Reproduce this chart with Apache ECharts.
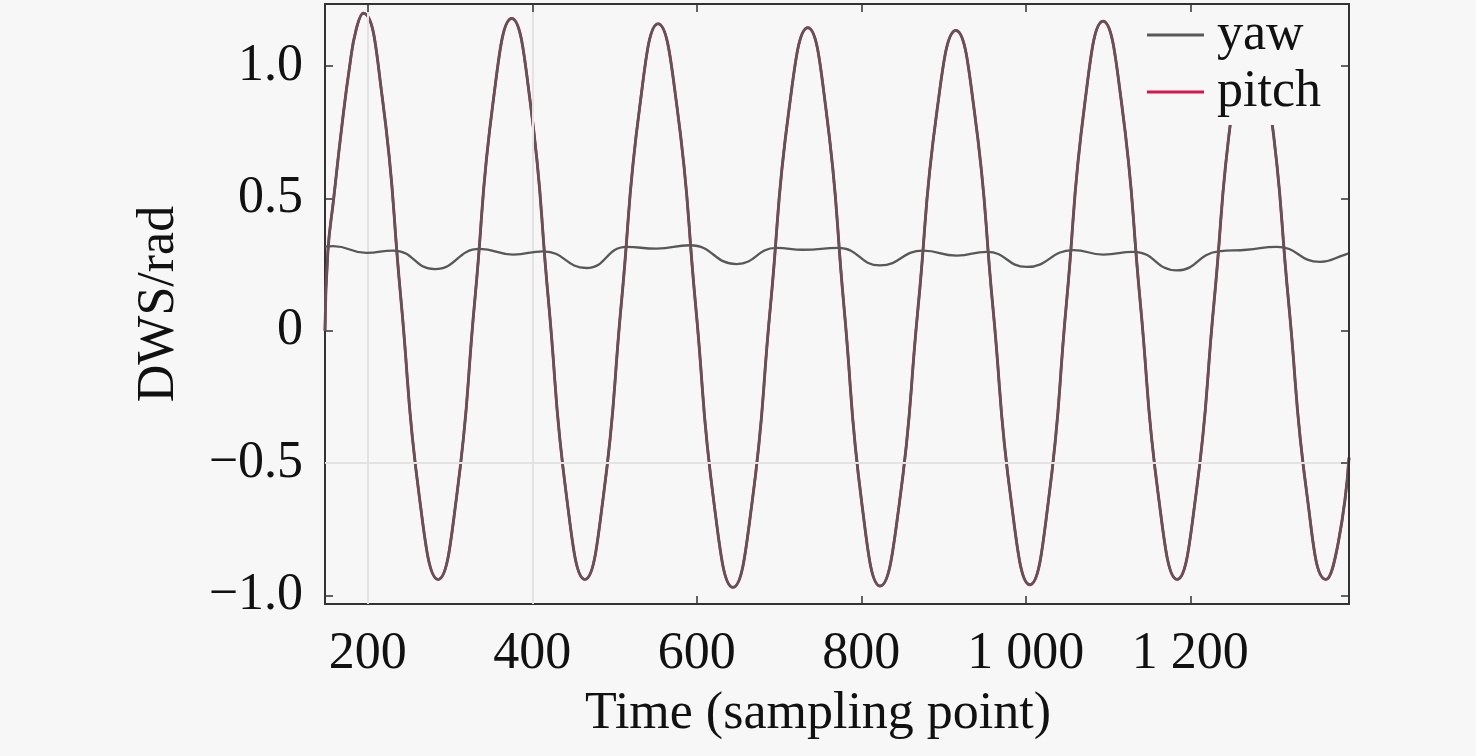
<!DOCTYPE html>
<html>
<head>
<meta charset="utf-8">
<script src="https://cdn.jsdelivr.net/npm/echarts@6/dist/echarts.min.js"></script>
<style>
html,body{margin:0;padding:0;background:#f7f7f7;}
#chart{width:1476px;height:756px;}
</style>
</head>
<body>
<div id="chart"></div>
<script>
// ---- data ----
const xTicks = [200, 400, 600, 800, 1000, 1200];
const yTicks = [-1.0, -0.5, 0, 0.5, 1.0];
const gridX = [200, 400];
const gridY = [-0.5];

const pitchT = [148, 151.5, 158.6, 168, 178, 186, 194.5,
  217.3, 240, 262.8, 285.5,
  307.9, 330.3, 352.6, 375,
  397.3, 419.5, 441.8, 464,
  486.3, 508.5, 530.8, 553,
  575.8, 598.5, 621.3, 644,
  666.8, 689.5, 712.3, 735,
  757, 779, 801, 823,
  846, 869, 892, 915,
  937.5, 960, 982.5, 1005,
  1027.3, 1049.5, 1071.8, 1094,
  1116.5, 1139, 1161.5, 1184,
  1206.5, 1229, 1251.5, 1274,
  1296.8, 1319.5, 1342.3, 1365,
  1380, 1393];
const pitchV = [0.0, 0.30, 0.50, 0.76, 1.0, 1.14, 1.20,
  0.89, 0.13, -0.63, -0.94,
  -0.63, 0.12, 0.87, 1.18,
  0.87, 0.12, -0.63, -0.94,
  -0.63, 0.11, 0.85, 1.16,
  0.85, 0.10, -0.66, -0.97,
  -0.66, 0.09, 0.84, 1.145,
  0.84, 0.09, -0.66, -0.965,
  -0.66, 0.085, 0.83, 1.135,
  0.83, 0.09, -0.65, -0.96,
  -0.65, 0.105, 0.86, 1.17,
  0.86, 0.115, -0.63, -0.94,
  -0.63, 0.11, 0.85, 1.16,
  0.85, 0.11, -0.63, -0.94,
  -0.80, -0.48];

const yawT = [148, 158, 198.4, 230.8, 281.5, 336.2, 376.7, 413.2, 466.0, 514.6, 551.1, 591.6,
  648.4, 697.1, 729.4, 772.0, 822.7, 875.4, 916.0, 952.5, 1001.1, 1057.8, 1094.3, 1130.8,
  1183.6, 1234.2, 1268.7, 1305.2, 1357.9, 1388.3, 1393];
const yawV = [0.318, 0.320, 0.294, 0.303, 0.233, 0.309, 0.288, 0.300, 0.237, 0.317, 0.310, 0.323,
  0.252, 0.313, 0.306, 0.313, 0.247, 0.303, 0.284, 0.298, 0.241, 0.305, 0.288, 0.298,
  0.228, 0.300, 0.306, 0.317, 0.260, 0.288, 0.292];

const X_MIN = 148, X_MAX = 1393, Y_MIN = -1.033, Y_MAX = 1.235;
const FONT = '"Liberation Serif", "Times New Roman", serif';
const BG = '#f7f7f7';
const AXIS_COLOR = '#333333';
const GRAY = '#585858';
const RED = '#d4184f';

const zip = (a, b) => a.map((v, i) => [v, b[i]]);
const fmtX = v => String(v).replace(/\B(?=(\d{3})+(?!\d))/g, ' ');
const fmtY = v => (Math.abs(v) < 1e-9 ? '0' : v.toFixed(1).replace('-', '\u2212'));

const chart = echarts.init(document.getElementById('chart'));
chart.setOption({
  backgroundColor: BG,
  animation: false,
  textStyle: { fontFamily: FONT },
  grid: { left: 325, right: 127, top: 4, bottom: 152, containLabel: false },
  legend: {
    data: [{ name: 'yaw', icon: 'rect' }, { name: 'pitch', icon: 'rect' }],
    left: 1140, top: 8, z: 20,
    orient: 'vertical',
    itemWidth: 57, itemHeight: 3, itemGap: 3,
    backgroundColor: BG,
    padding: [0, 10, 6, 7],
    textStyle: { fontFamily: FONT, fontSize: 52, color: '#111', lineHeight: 54, padding: [0, 0, 0, 8] }
  },
  xAxis: [{
    type: 'value', min: X_MIN, max: X_MAX,
    name: 'Time (sampling point)', nameLocation: 'middle', nameGap: 84,
    nameTextStyle: { fontFamily: FONT, fontSize: 52, color: '#111', padding: [0, 38, 0, 0] },
    axisLine: { show: true, onZero: false, lineStyle: { color: AXIS_COLOR, width: 2 } },
    axisTick: { show: true, inside: true, length: 8, customValues: xTicks, lineStyle: { color: AXIS_COLOR, width: 1.5 } },
    axisLabel: { customValues: xTicks, formatter: fmtX, fontFamily: FONT, fontSize: 52, color: '#111', margin: 24 },
    splitLine: { show: false }
  }, {
    type: 'value', min: X_MIN, max: X_MAX, position: 'top', z: 30,
    axisLine: { show: true, onZero: false, lineStyle: { color: AXIS_COLOR, width: 2 } },
    axisTick: { show: true, inside: true, length: 8, customValues: xTicks, lineStyle: { color: AXIS_COLOR, width: 1.5 } },
    axisLabel: { show: false },
    splitLine: { show: false }
  }],
  yAxis: [{
    type: 'value', min: Y_MIN, max: Y_MAX,
    name: 'DWS/rad', nameLocation: 'middle', nameGap: 140,
    nameTextStyle: { fontFamily: FONT, fontSize: 52, color: '#111' },
    axisLine: { show: true, onZero: false, lineStyle: { color: AXIS_COLOR, width: 2 } },
    axisTick: { show: true, inside: true, length: 8, customValues: yTicks, lineStyle: { color: AXIS_COLOR, width: 1.5 } },
    axisLabel: { customValues: yTicks, formatter: fmtY, fontFamily: FONT, fontSize: 52, color: '#111', margin: 22 },
    splitLine: { show: false }
  }, {
    type: 'value', min: Y_MIN, max: Y_MAX, position: 'right', z: 30,
    axisLine: { show: true, onZero: false, lineStyle: { color: AXIS_COLOR, width: 2 } },
    axisTick: { show: true, inside: true, length: 8, customValues: yTicks, lineStyle: { color: AXIS_COLOR, width: 1.5 } },
    axisLabel: { show: false },
    splitLine: { show: false }
  }],
  series: [
    {
      name: 'grid', type: 'line', data: [], z: 1, silent: true,
      markLine: {
        silent: true, symbol: 'none', animation: false,
        label: { show: false },
        lineStyle: { color: '#e3e3e3', width: 2, type: 'solid' },
        data: gridX.map(v => ({ xAxis: v })).concat(gridY.map(v => ({ yAxis: v })))
      }
    },
    {
      name: 'pitch', type: 'line', data: zip(pitchT, pitchV), smooth: 0.5,
      symbol: 'none', z: 3,
      lineStyle: { color: RED, width: 2.9 }, itemStyle: { color: RED }
    },
    {
      name: 'pitch-overlay', type: 'line', data: zip(pitchT, pitchV), smooth: 0.5,
      symbol: 'none', z: 4,
      lineStyle: { color: GRAY, width: 2.5 }, itemStyle: { color: GRAY }
    },
    {
      name: 'yaw', type: 'line', data: zip(yawT, yawV), smooth: 0.5,
      symbol: 'none', z: 5,
      lineStyle: { color: GRAY, width: 2.3 }, itemStyle: { color: GRAY }
    }
  ]
});
</script>
</body>
</html>
